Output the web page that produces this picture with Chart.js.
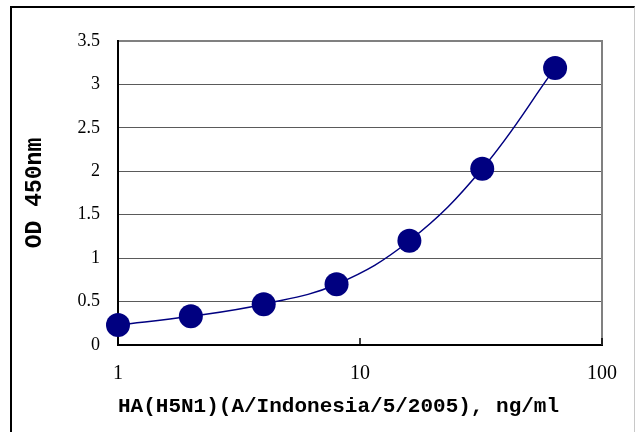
<!DOCTYPE html>
<html>
<head>
<meta charset="utf-8">
<script src="https://cdn.jsdelivr.net/npm/chart.js@4.4.1/dist/chart.umd.min.js"></script>
<style>
  html, body { margin: 0; padding: 0; background: #fff; overflow: hidden; }
  #frame {
    position: absolute; left: 10px; top: 6px; width: 622px; height: 440px;
    border-top: 2px solid #000; border-left: 2px solid #000; border-right: 1px solid #c8c8c8;
  }
  #chart { position: absolute; left: 0; top: 0; }
</style>
</head>
<body>
<div id="frame"></div>
<canvas id="chart" width="636" height="432"></canvas>
<script>
// HA concentration (ng/ml) and measured OD at 450nm
const concentrations = [1, 2, 4, 8, 16, 32, 64];
const odValues = [0.23, 0.33, 0.47, 0.70, 1.20, 2.03, 3.19];
const xTickValues = [1, 10, 100];
const yTickValues = [0, 0.5, 1, 1.5, 2, 2.5, 3, 3.5];

const xTitle = 'HA(H5N1)(A/Indonesia/5/2005), ng/ml';
const yTitle = 'OD 450nm';

// right edge of the plot box + the small inside tick marks on the x axis
const plotFrame = {
  id: 'plotFrame',
  beforeDatasetsDraw(chart) {
    const { ctx, chartArea } = chart;
    const xScale = chart.scales.x;
    ctx.save();
    ctx.strokeStyle = '#808080';
    ctx.lineWidth = 2;
    ctx.beginPath();
    ctx.moveTo(chartArea.right, chartArea.top - 1);
    ctx.lineTo(chartArea.right, chartArea.bottom);
    ctx.stroke();

    ctx.strokeStyle = '#000';
    ctx.lineWidth = 1.5;
    xScale.ticks.forEach((tick) => {
      const px = xScale.getPixelForValue(tick.value);
      ctx.beginPath();
      ctx.moveTo(px, chartArea.bottom);
      ctx.lineTo(px, chartArea.bottom - 7);
      ctx.stroke();
    });
    ctx.restore();
  },
};

const ctx = document.querySelector('#chart');

new Chart(ctx, {
  type: 'scatter',
  data: {
    datasets: [
      {
        data: concentrations.map((x, i) => ({ x, y: odValues[i] })),
        showLine: true,
        borderColor: '#000080',
        borderWidth: 1.5,
        tension: 0.4,
        pointRadius: 12,
        pointHoverRadius: 12,
        pointBackgroundColor: '#000080',
        pointBorderColor: '#000080',
        pointBorderWidth: 0,
        clip: false,
      },
    ],
  },
  options: {
    responsive: false,
    animation: false,
    events: [],
    layout: {
      padding: { left: 0, top: 41, right: 34, bottom: 0 },
    },
    plugins: {
      legend: { display: false },
      tooltip: { enabled: false },
    },
    scales: {
      x: {
        type: 'logarithmic',
        min: 1,
        max: 100,
        afterBuildTicks: (scale) => {
          scale.ticks = xTickValues.map((v) => ({ value: v }));
        },
        afterFit: (scale) => {
          scale.height = 87;
        },
        grid: { display: false, drawTicks: false },
        border: { display: true, color: '#000', width: 2 },
        ticks: {
          padding: 17,
          color: '#000',
          maxRotation: 0,
          autoSkip: false,
          font: { family: 'Liberation Serif', size: 20 },
          callback: (value) => String(value),
        },
        title: {
          display: true,
          text: xTitle,
          align: 'start',
          color: '#000',
          padding: { top: 0, bottom: 13 },
          font: { family: 'Liberation Mono', size: 21, weight: 'bold' },
        },
      },
      y: {
        min: 0,
        max: 3.5,
        afterBuildTicks: (scale) => {
          scale.ticks = yTickValues.map((v) => ({ value: v }));
        },
        afterFit: (scale) => {
          scale.width = 118;
        },
        grid: {
          color: (c) => (c.tick && c.tick.value === 3.5 ? '#808080' : '#5a5a5a'),
          lineWidth: (c) => (c.tick && c.tick.value === 3.5 ? 2 : 1),
          drawTicks: false,
        },
        border: { display: true, color: '#000', width: 2 },
        ticks: {
          padding: 18,
          color: '#000',
          font: { family: 'Liberation Serif', size: 18 },
          callback: (value) => String(value),
        },
        title: {
          display: true,
          text: yTitle,
          color: '#000',
          padding: { top: 21, bottom: 0 },
          font: { family: 'Liberation Mono', size: 23, weight: 'bold' },
        },
      },
    },
  },
  plugins: [plotFrame],
});
</script>
</body>
</html>
